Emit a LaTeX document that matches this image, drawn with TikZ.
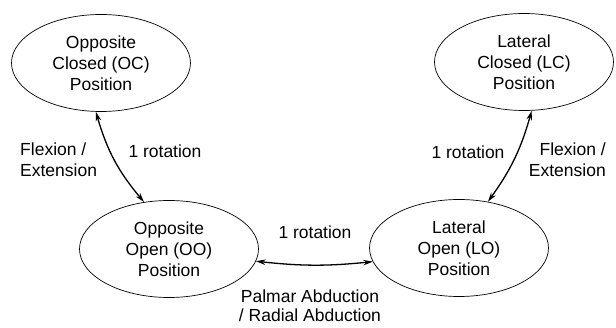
\documentclass[tikz,border=0pt]{standalone}
\usepackage{fontspec}
\setmainfont{Liberation Sans}
\usetikzlibrary{shapes.geometric,arrows.meta}
\begin{document}
\begin{tikzpicture}[x=1pt,y=-1pt,
  state/.style={ellipse,draw,line width=0.7pt,minimum width=179pt,minimum height=97pt,inner sep=0pt,align=center,font=\fontsize{17.5}{21}\selectfont},
  lbl/.style={inner sep=0pt,font=\fontsize{17.5}{21}\selectfont},
  conn/.style={line width=1.3pt,{Stealth[length=9.5pt,width=5.5pt]}-{Stealth[length=9.5pt,width=5.5pt]}}]
\useasboundingbox (0,0) rectangle (616,328);
\node[state] (OC) at (101,63) {Opposite\\Closed (OC)\\Position};
\node[state] (LC) at (524,62) {Lateral\\Closed (LC)\\Position};
\node[state] (OO) at (169,249) {Opposite\\Open (OO)\\Position};
\node[state] (LO) at (459,248) {Lateral\\Open (LO)\\Position};
\draw[conn] (OC.264) to[bend right=12] (OO.118);
\draw[conn] (LC.279) to[bend left=10] (LO.58);
\draw[conn] (OO.-8) to[bend right=6] (LO.189);
\node[lbl,align=left,anchor=west] (flexL) at (20,160) {Flexion /\\Extension};
\node[lbl] (rotL) at (165,151) {1 rotation};
\node[lbl] (rotR) at (468,152) {1 rotation};
\node[lbl,align=right,anchor=east] (flexR) at (606,160) {Flexion /\\Extension};
\node[lbl] (rotM) at (315,232) {1 rotation};
\node[lbl,align=center,font=\fontsize{17.5}{19}\selectfont] (palm) at (310,306) {Palmar Abduction\\/ Radial Abduction};
\end{tikzpicture}
\end{document}
